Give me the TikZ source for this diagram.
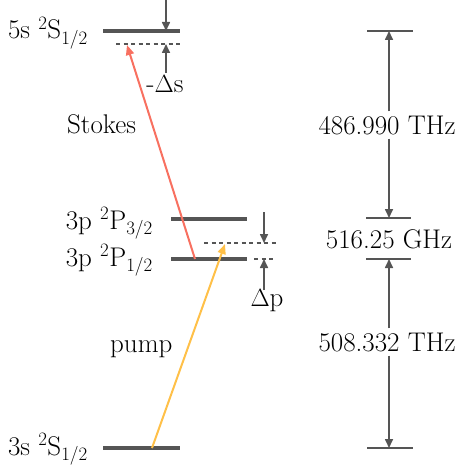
\documentclass[tikz,border=0pt]{standalone}
\usepackage{fontspec}
\usetikzlibrary{arrows.meta}
\definecolor{lvl}{RGB}{85,85,85}
\definecolor{stokescol}{RGB}{248,112,96}
\definecolor{pumpcol}{RGB}{255,192,72}
\tikzset{
  level/.style={draw=lvl, line width=3.2pt},
  dashlvl/.style={draw=lvl, line width=1.4pt, dash pattern=on 4pt off 3.5pt},
  tick/.style={draw=lvl, line width=1.6pt},
  garrow/.style={draw=lvl, line width=1.6pt, -{Triangle[length=9pt,width=8pt]}},
  lbl/.style={font=\rmfamily\fontsize{27}{32}\selectfont, inner sep=0pt, text=black},
}
\begin{document}
\begin{tikzpicture}[x=1pt,y=-1pt]
\useasboundingbox (0,0) rectangle (459,468);
% levels
\coordinate (s5a) at (103,31); \coordinate (s5b) at (180,31);
\coordinate (p3a) at (171,219); \coordinate (p3b) at (247,219);
\coordinate (p1a) at (171,259); \coordinate (p1b) at (247,259);
\coordinate (s3a) at (103,448); \coordinate (s3b) at (180,448);
\draw[level] (s5a) -- (s5b);
\draw[level] (p3a) -- (p3b);
\draw[level] (p1a) -- (p1b);
\draw[level] (s3a) -- (s3b);
% virtual levels
\coordinate (vsa) at (116,44); \coordinate (vsb) at (180,44);
\coordinate (vpa) at (204,243); \coordinate (vpb) at (276,243);
\coordinate (vqa) at (254,259); \coordinate (vqb) at (274,259);
\draw[dashlvl] (vsa) -- (vsb);
\draw[dashlvl] (vpa) -- (vpb);
\draw[dashlvl] (vqa) -- (vqb);
% level labels
\node[lbl, anchor=base east] (l5s) at (88,39) {5s \textsuperscript{2}S\textsubscript{1/2}};
\node[lbl, anchor=base east] (l3p3) at (153,229) {3p \textsuperscript{2}P\textsubscript{3/2}};
\node[lbl, anchor=base east] (l3p1) at (153,266) {3p \textsuperscript{2}P\textsubscript{1/2}};
\node[lbl, anchor=base east] (l3s) at (88,455) {3s \textsuperscript{2}S\textsubscript{1/2}};
% detuning arrows
\coordinate (ds0) at (166,0); \coordinate (ds1) at (166,31);
\coordinate (ds2) at (166,73); \coordinate (ds3) at (166,44);
\draw[garrow] (ds0) -- (ds1);
\draw[garrow] (ds2) -- (ds3);
\node[lbl, anchor=base] (dslbl) at (165,93) {-$\Delta$s};
\coordinate (dp0) at (264,212); \coordinate (dp1) at (264,243);
\coordinate (dp2) at (264,290); \coordinate (dp3) at (264,259);
\draw[garrow] (dp0) -- (dp1);
\draw[garrow] (dp2) -- (dp3);
\node[lbl, anchor=base] (dplbl) at (267,306) {$\Delta$p};
% laser arrows
\coordinate (st0) at (195,259); \coordinate (st1) at (127,45);
\draw[draw=stokescol, line width=2pt, -{Triangle[length=10pt,width=8pt]}, color=stokescol] (st0) -- (st1);
\coordinate (pu0) at (152,448); \coordinate (pu1) at (225,244);
\draw[draw=pumpcol, line width=2pt, -{Triangle[length=10pt,width=8pt]}, color=pumpcol] (pu0) -- (pu1);
\node[lbl, anchor=base west] (stokes) at (67,133) {Stokes};
\node[lbl, anchor=base west] (pump) at (110,352) {pump};
% right-hand scale
\coordinate (t1a) at (367,31); \coordinate (t1b) at (413,31);
\coordinate (t2a) at (366,218); \coordinate (t2b) at (411,218);
\coordinate (t3a) at (366,259); \coordinate (t3b) at (411,259);
\coordinate (t4a) at (367,448); \coordinate (t4b) at (413,448);
\draw[tick] (t1a) -- (t1b);
\draw[tick] (t2a) -- (t2b);
\draw[tick] (t3a) -- (t3b);
\draw[tick] (t4a) -- (t4b);
\node[lbl, anchor=base] (f1) at (387,134) {486.990 THz};
\node[lbl, anchor=base] (f2) at (389,248) {516.25 GHz};
\node[lbl, anchor=base] (f3) at (387,351) {508.332 THz};
\coordinate (a1) at (389,31); \coordinate (a2) at (389,218);
\coordinate (a3) at (389,259); \coordinate (a4) at (389,448);
\draw[garrow] (a1 |- f1.north) ++(0,-4) -- (a1);
\draw[garrow] (a2 |- f1.south) ++(0,4) -- (a2);
\draw[garrow] (a3 |- f3.north) ++(0,-4) -- (a3);
\draw[garrow] (a4 |- f3.south) ++(0,4) -- (a4);
\end{tikzpicture}
\end{document}
